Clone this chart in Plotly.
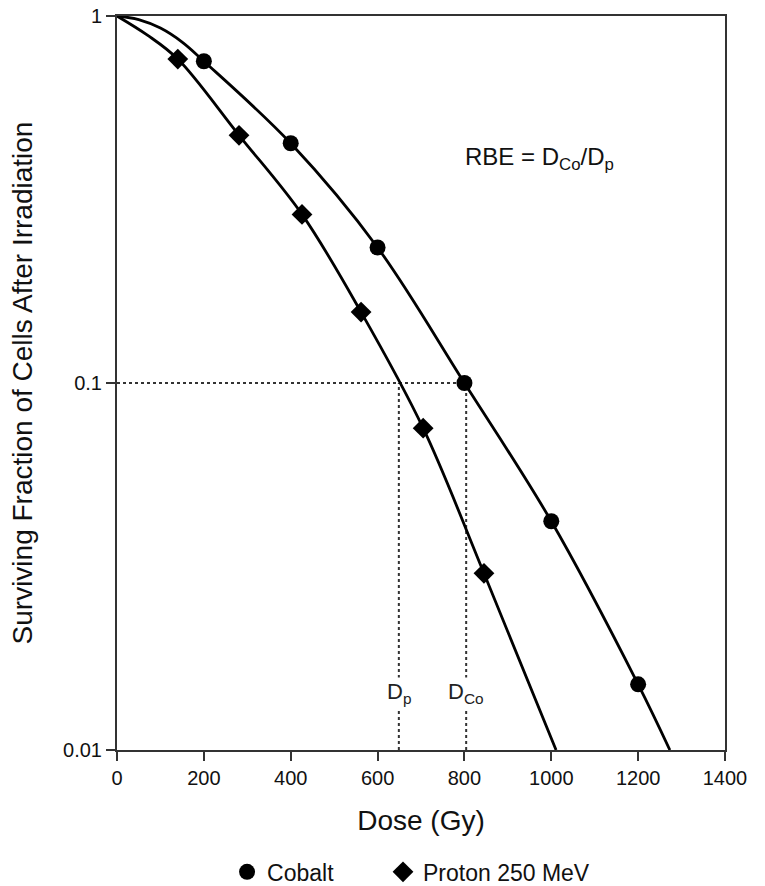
import plotly.graph_objects as go

# Measured data points
cobalt_dose = [200, 400, 600, 800, 1000, 1200]
cobalt_sf = [0.753, 0.45, 0.234, 0.1, 0.042, 0.0151]
proton_dose = [140, 281, 426, 562, 705, 845]
proton_sf = [0.763, 0.473, 0.288, 0.156, 0.0753, 0.0303]

# Fitted curves
cobalt_curve_dose = [0, 50, 100, 150, 200, 400, 600, 800, 1000, 1200, 1273]
cobalt_curve_sf = [1.0, 0.978, 0.927, 0.849, 0.753, 0.45, 0.234, 0.1, 0.042, 0.0151, 0.01]
proton_curve_dose = [0, 70, 140, 281, 426, 562, 705, 845, 1011]
proton_curve_sf = [1.0, 0.887, 0.763, 0.473, 0.288, 0.156, 0.0753, 0.0303, 0.01]

d_p = 649
d_co = 804
sf_ref = 0.1

x_ticks = [0, 200, 400, 600, 800, 1000, 1200, 1400]
y_ticks = [1, 0.1, 0.01]
y_tick_labels = ["1", "0.1", "0.01"]

FONT = "Liberation Sans"

fig = go.Figure()

dot = dict(color="#333", width=2, dash="dot")
fig.add_trace(go.Scatter(x=[0, d_co], y=[sf_ref, sf_ref], mode="lines", line=dot,
                         showlegend=False, hoverinfo="skip"))
fig.add_trace(go.Scatter(x=[d_p, d_p], y=[0.01, sf_ref], mode="lines", line=dot,
                         showlegend=False, hoverinfo="skip"))
fig.add_trace(go.Scatter(x=[d_co, d_co], y=[0.01, sf_ref], mode="lines", line=dot,
                         showlegend=False, hoverinfo="skip"))

fig.add_trace(go.Scatter(x=cobalt_curve_dose, y=cobalt_curve_sf, mode="lines",
                         line=dict(color="black", width=2.8, shape="spline", smoothing=1.0),
                         showlegend=False, hoverinfo="skip"))
fig.add_trace(go.Scatter(x=proton_curve_dose, y=proton_curve_sf, mode="lines",
                         line=dict(color="black", width=2.8, shape="spline", smoothing=1.0),
                         showlegend=False, hoverinfo="skip"))

fig.add_trace(go.Scatter(x=cobalt_dose, y=cobalt_sf, mode="markers", name="Cobalt",
                         marker=dict(symbol="circle", size=16, color="black"), legend="legend"))
fig.add_trace(go.Scatter(x=proton_dose, y=proton_sf, mode="markers", name="Proton 250 MeV",
                         marker=dict(symbol="diamond", size=16, color="black"), legend="legend2"))

fig.add_annotation(x=d_p, y=-1.845, xref="x", yref="y", text="D<sub>p</sub>", showarrow=False,
                   font=dict(size=22, color="#222", family=FONT), bgcolor="white")
fig.add_annotation(x=d_co, y=-1.845, xref="x", yref="y", text="D<sub>Co</sub>", showarrow=False,
                   font=dict(size=22, color="#222", family=FONT), bgcolor="white")
fig.add_annotation(x=972, y=-0.387, xref="x", yref="y", text="RBE = D<sub>Co</sub>/D<sub>p</sub>",
                   showarrow=False, font=dict(size=24, color="#111", family=FONT))

leg_common = dict(orientation="h", y=-0.166, xanchor="left", yanchor="middle",
                  font=dict(size=23, family=FONT), bgcolor="rgba(0,0,0,0)", itemsizing="trace")

fig.update_layout(
    width=765, height=886,
    margin=dict(l=117, r=40, t=16, b=136, autoexpand=False),
    plot_bgcolor="white", paper_bgcolor="white",
    font=dict(family=FONT, color="#111", size=20),
    legend=dict(x=0.181, **leg_common),
    legend2=dict(x=0.4375, **leg_common),
)
fig.update_xaxes(range=[0, 1400], tickvals=x_ticks, ticks="outside", ticklen=9, tickwidth=2,
                 tickcolor="#333", showline=True, linecolor="#333", linewidth=2, mirror=True,
                 showgrid=False, zeroline=False, tickfont=dict(size=20), automargin=False,
                 ticklabeloverflow="allow",
                 title=dict(text="Dose (Gy)", font=dict(size=28), standoff=22))
fig.update_yaxes(type="log", range=[-2, 0], tickvals=y_ticks, ticktext=y_tick_labels,
                 ticks="outside", ticklen=9, tickwidth=2, tickcolor="#333",
                 showline=True, linecolor="#333", linewidth=2, mirror=True,
                 showgrid=False, zeroline=False, tickfont=dict(size=20), automargin=False,
                 ticklabeloverflow="allow",
                 title=dict(text="Surviving Fraction of Cells After Irradiation",
                            font=dict(size=28), standoff=22))

# remove the browser's default 8 px body margin so the figure fills the window exactly
fig.write_html("out.html", config={"displayModeBar": False},
               post_script="document.body.style.margin='0';document.body.style.overflow='hidden';")
